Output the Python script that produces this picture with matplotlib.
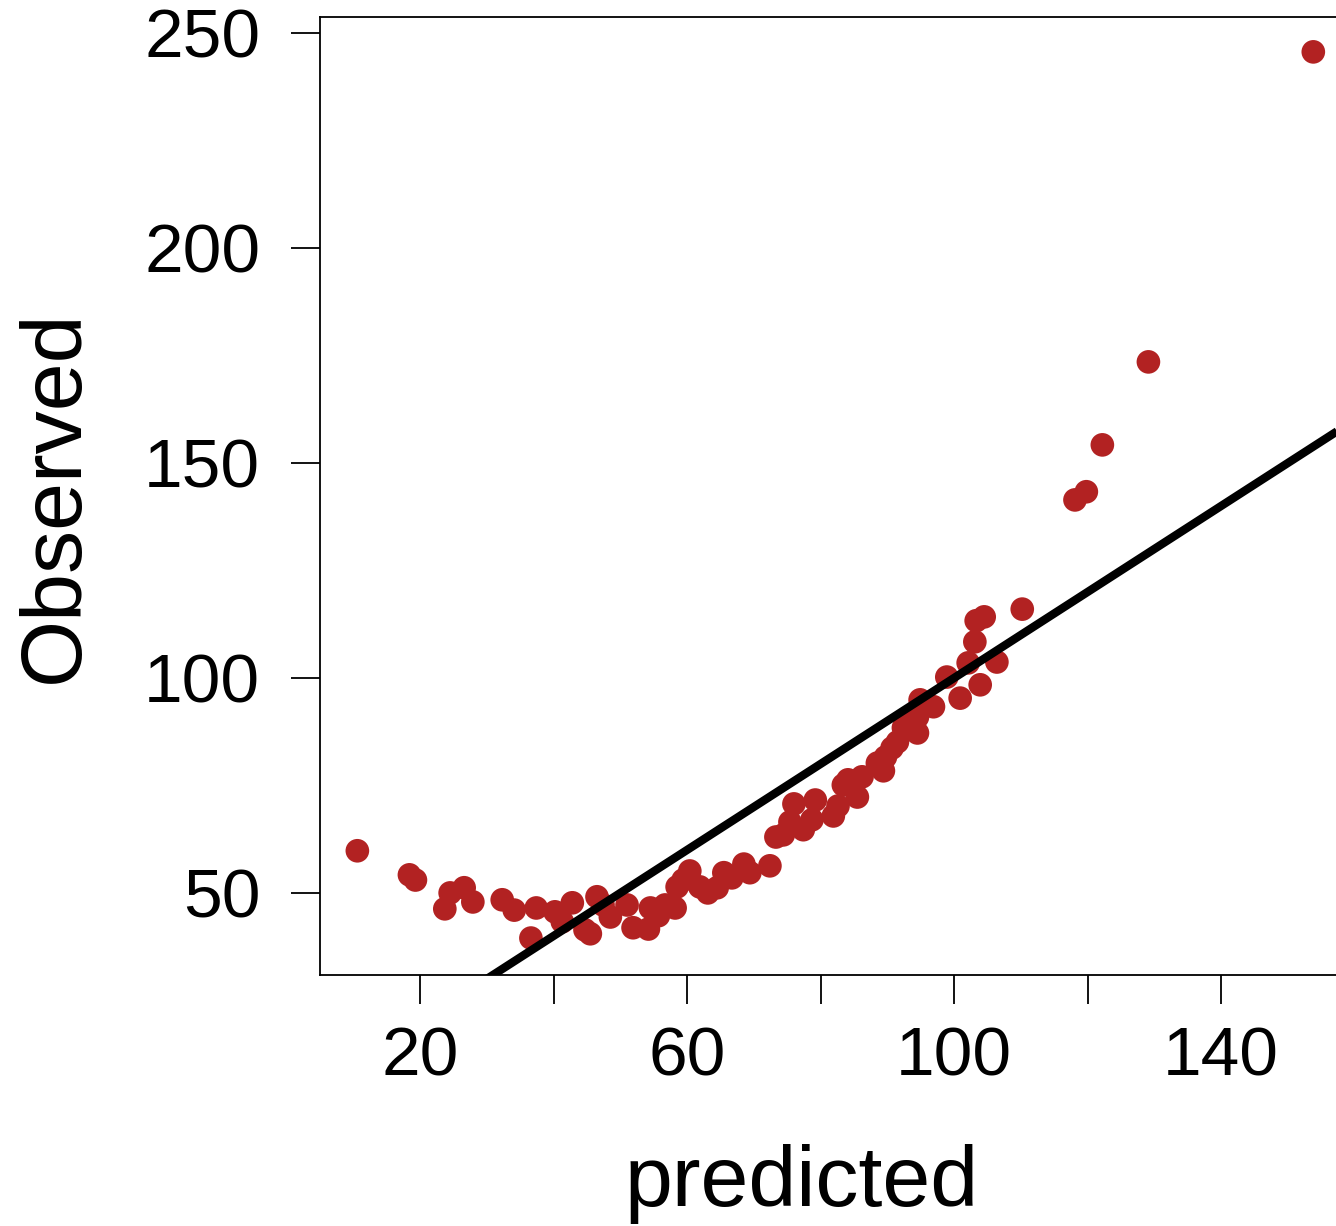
"""
Observed vs predicted scatter with the 1:1 reference line.
"""
import matplotlib
matplotlib.use("Agg")
import matplotlib.pyplot as plt

predicted = [
    10.6, 18.4, 19.3, 23.7, 24.5, 26.6, 27.9, 32.3, 34.1, 36.6,
    37.4, 40.2, 41.3, 42.8, 44.7, 45.5, 46.5, 47.4, 48.5, 51.0,
    51.9, 54.2, 54.5, 55.7, 56.7, 58.2, 58.5, 59.4, 60.4, 61.9,
    63.1, 64.5, 65.5, 66.7, 68.5, 69.4, 72.4, 73.3, 74.4, 75.4,
    76.0, 77.4, 78.7, 79.2, 81.9, 82.6, 83.4, 84.1, 85.5, 86.2,
    88.5, 89.4, 89.7, 90.7, 91.5, 92.4, 93.4, 94.5, 94.9, 94.5,
    96.9, 98.9, 100.9, 102.1, 103.9, 103.1, 103.3, 104.5, 106.4, 110.2,
    118.1, 119.8, 122.2, 129.1, 153.8,
]
observed = [
    59.8, 54.2, 53.0, 46.3, 50.0, 51.2, 47.9, 48.4, 46.0, 39.5,
    46.5, 45.6, 43.3, 47.7, 41.4, 40.5, 49.1, 47.2, 44.4, 47.2,
    41.9, 41.6, 46.5, 44.7, 47.2, 46.5, 51.4, 53.0, 55.1, 51.4,
    50.0, 51.2, 54.7, 53.5, 56.7, 54.7, 56.3, 63.0, 63.5, 66.5,
    70.7, 64.7, 67.0, 71.6, 67.9, 70.2, 75.1, 76.3, 72.3, 77.0,
    80.2, 78.4, 81.6, 83.7, 85.1, 88.4, 89.8, 87.2, 94.9, 90.9,
    93.3, 100.2, 95.3, 103.5, 98.4, 108.4, 113.3, 114.2, 103.7, 116.0,
    141.4, 143.3, 154.2, 173.5, 245.6,
]

x_ticks = [20, 40, 60, 80, 100, 120, 140]
x_labels = ["20", "", "60", "", "100", "", "140"]
y_ticks = [50, 100, 150, 200, 250]

plt.rcParams["font.family"] = ["Liberation Sans", "DejaVu Sans"]

fig = plt.figure(figsize=(13.36, 12.26), dpi=100)
ax = fig.add_axes([0.2395, 0.2047, 0.7605, 0.7814])

ax.scatter(predicted, observed, s=290, color="#b22222", edgecolors="none", zorder=2)
ax.plot([0, 300], [0, 300], color="black", lw=6, zorder=3, solid_capstyle="butt")

ax.set_xlim(5.0, 157.2)
ax.set_ylim(30.9, 253.7)
ax.set_xticks(x_ticks)
ax.set_xticklabels(x_labels)
ax.set_yticks(y_ticks)
ax.tick_params(axis="both", direction="out", length=21, width=1.3, labelsize=50)
ax.tick_params(axis="x", pad=15)
ax.tick_params(axis="y", pad=22)
for side in ("left", "bottom", "top"):
    ax.spines[side].set_linewidth(1.3)
ax.spines["right"].set_visible(False)

fig.text(0.6, 0.034, "predicted", fontsize=62, ha="center", va="center")
fig.text(0.042, 0.595, "Observed", fontsize=62, ha="center", va="center", rotation=90)

fig.savefig("out.png", dpi=100)
